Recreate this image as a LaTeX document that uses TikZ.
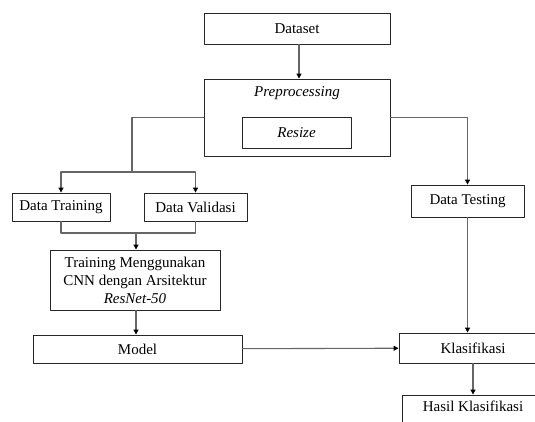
\documentclass[tikz,border=0pt]{standalone}
\usepackage{fontspec}
\setmainfont{Liberation Serif}
\usetikzlibrary{arrows.meta}
\begin{document}
\begin{tikzpicture}[x=1pt,y=-1pt,line cap=round,line join=round,>={Triangle[width=5pt,length=5pt,color=black]},
	font=\fontsize{15}{18}\selectfont,
	box/.style={draw=black!85,line width=0.9pt,inner sep=0pt,align=center},
	line/.style={draw=black!60,line width=1.1pt}]
			\clip (0,0) rectangle (535,421);
			\node[box,minimum width=186,minimum height=31] (dataset) at (297,28.5) {Dataset};
			\node[box,minimum width=186,minimum height=77] (prep) at (297,117.5) {};
			\node (preptext) at (297,93) {\itshape Preprocessing};
			\node[box,minimum width=109,minimum height=31] (resize) at (296.5,132.5) {\itshape Resize};
			\node[box,minimum width=98,minimum height=28] (train) at (61,207) {Data Training};
			\node[box,minimum width=103,minimum height=28] (valid) at (195.5,207) {Data Validasi};
			\node[box,minimum width=113,minimum height=32] (test) at (467.5,201) {Data Testing};
			\node[box,minimum width=170,minimum height=60] (cnn) at (135,280) {Training Menggunakan\\CNN dengan Arsitektur\\\textit{ResNet-50}};
			\node[box,minimum width=209,minimum height=28] (model) at (137.5,349) {Model};
			\node[box,minimum width=148,minimum height=30] (klas) at (473,348) {Klasifikasi};
			\node[box,minimum width=142,minimum height=30] (hasil) at (473,410) {\raisebox{8pt}{Hasil Klasifikasi}};
			\coordinate (split) at (132,172);
			\coordinate (merge) at (136,233);
			\draw[line,->] (dataset.south -| 299,0) -- (prep.north -| 299,0);
			\draw[line] (prep.west) -| (split);
			\draw[line,->] (split) -| (train);
			\draw[line,->] (split) -| (valid);
			\draw[line,->] (prep.east) -| (test);
			\draw[line] (train.south) |- (merge) -| (valid.south);
			\draw[line,->] (merge) -- (merge |- cnn.north);
			\draw[line,->] (cnn.south -| merge) -- (model.north -| merge);
			\draw[line,->] (model) -- (klas);
			\draw[line,->] (test) -- (test |- klas.north);
			\draw[line,->] (klas) -- (hasil);
	\end{tikzpicture}
\end{document}
